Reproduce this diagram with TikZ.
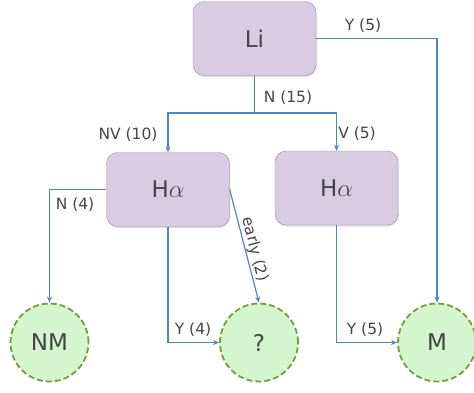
\documentclass[tikz,border=0pt]{standalone}
\usepackage{fontspec}
\setmainfont{DejaVu Sans}
\usetikzlibrary{arrows.meta,shadows}
\definecolor{boxfill}{HTML}{D8CBE2}
\definecolor{boxdraw}{HTML}{9D89B5}
\definecolor{circfill}{HTML}{D3F6CE}
\definecolor{circdraw}{HTML}{7A9A3E}
\definecolor{linecol}{HTML}{4F86C0}
\definecolor{txt}{HTML}{454545}
\begin{document}
\begin{tikzpicture}[x=1pt,y=-1pt,
  decision/.style={draw=boxdraw, fill=boxfill, rounded corners=11pt, minimum width=123pt, minimum height=74pt, inner sep=0pt, text=txt, font=\fontsize{23}{26}\selectfont, drop shadow={opacity=0.25, shadow xshift=0.8pt, shadow yshift=-1.5pt}},
  leaf/.style={circle, draw=circdraw, fill=circfill, dashed, dash pattern=on 6pt off 3pt, line width=1.8pt, minimum size=78pt, inner sep=0pt, text=txt, font=\fontsize{23}{26}\selectfont},
  conn/.style={draw=linecol, line width=1.2pt},
  arr/.style={conn, -{Stealth[length=6pt,width=5pt]}},
  lab/.style={text=txt, font=\fontsize{15.5}{18}\selectfont, inner sep=1pt}
]
\useasboundingbox (0,0) rectangle (474,392);
\node[decision] (li) at (254.5,38.5) {Li};
\node[decision] (h1) at (168,189.5) {H$\alpha$};
\node[decision] (h2) at (336.5,188) {H$\alpha$};
\node[leaf] (nm) at (49.5,342.5) {NM};
\node[leaf] (q) at (259,342.5) {?};
\node[leaf] (m) at (437,342.5) {M};
\coordinate (split) at (254.5,113);
\draw[conn] (li.south) -- (split);
\draw[arr] (split) -| (h1.north);
\draw[arr] (split) -| (h2.north);
\draw[arr] (li.east) -| (m.north);
\draw[arr] (h1.west) -| (nm.north);
\draw[arr] (h1.south) |- (q.west);
\draw[arr] (h2.south) |- (m.west);
\draw[arr] (h1.east) -- node[lab, sloped, above, pos=0.55] {early (2)} (q.north);
\node[lab] (l1) at (363,26) {Y (5)};
\node[lab] (l2) at (288,98) {N (15)};
\node[lab] (l3) at (128,135) {NV (10)};
\node[lab] (l4) at (357,134) {V (5)};
\node[lab] (l5) at (75,205) {N (4)};
\node[lab] (l6) at (193,330) {Y (4)};
\node[lab] (l7) at (365,330) {Y (5)};
\end{tikzpicture}
\end{document}
